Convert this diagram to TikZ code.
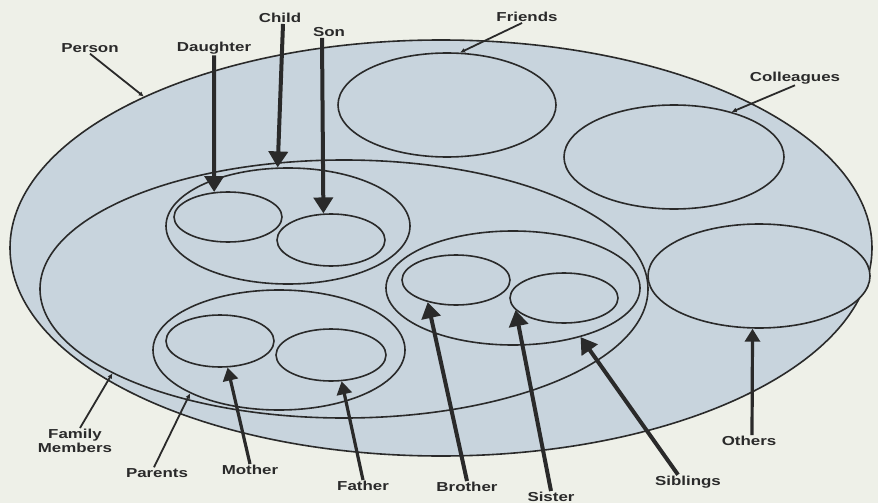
\documentclass[tikz,border=0pt]{standalone}
\usepackage{fontspec}
\newfontfamily\labfont[FakeStretch=1.3]{Liberation Sans}
\usetikzlibrary{shapes.geometric,arrows.meta}
\definecolor{bg}{HTML}{EEF0E8}
\definecolor{setfill}{HTML}{C8D4DD}
\definecolor{ink}{HTML}{2A2A2A}
\begin{document}
\begin{tikzpicture}[x=1pt,y=-1pt,
  set/.style={ellipse, draw=ink, line width=1.6pt, fill=setfill, inner sep=0pt},
  lab/.style={font=\labfont\bfseries\fontsize{13}{14}\selectfont, text=ink, inner sep=1pt, align=center},
  bigarrow/.style={draw=ink, line width=4pt, -{Triangle[length=16pt,width=19pt]}},
  midarrow/.style={draw=ink, line width=3.2pt, -{Triangle[length=13pt,width=15pt]}},
  leader/.style={draw=ink, line width=1.8pt, -{Latex[length=5pt,width=5pt]}}]
\useasboundingbox (0,0) rectangle (878,503);
\fill[bg] (0,0) rectangle (878,503);

% sets
\node[set, minimum width=862pt, minimum height=416pt] (person) at (441,248) {};
\node[set, minimum width=218pt, minimum height=104pt] (friends) at (447,105) {};
\node[set, minimum width=220pt, minimum height=104pt] (colleagues) at (674,157) {};
\node[set, minimum width=222pt, minimum height=104pt] (others) at (759,276) {};
\node[set, minimum width=608pt, minimum height=258pt] (family) at (344,289) {};
\node[set, minimum width=244pt, minimum height=116pt] (child) at (288,226) {};
\node[set, minimum width=108pt, minimum height=50pt] (daughter) at (228,217) {};
\node[set, minimum width=108pt, minimum height=52pt] (son) at (331,240) {};
\node[set, minimum width=252pt, minimum height=120pt] (parents) at (279,350) {};
\node[set, minimum width=108pt, minimum height=52pt] (mother) at (220,341) {};
\node[set, minimum width=110pt, minimum height=52pt] (father) at (331,355) {};
\node[set, minimum width=254pt, minimum height=114pt] (siblings) at (513,288) {};
\node[set, minimum width=108pt, minimum height=50pt] (brother) at (456,280) {};
\node[set, minimum width=108pt, minimum height=50pt] (sister) at (564,298) {};

% labels
\node[lab] (lperson) at (90,48) {Person};
\node[lab] (ldaughter) at (214,48) {Daughter};
\node[lab] (lchild) at (280,18) {Child};
\node[lab] (lson) at (329,32) {Son};
\node[lab] (lfriends) at (527,17) {Friends};
\node[lab] (lcolleagues) at (795,78) {Colleagues};
\node[lab] (lfamily) at (75,441) {Family\\Members};
\node[lab] (lparents) at (157,473) {Parents};
\node[lab] (lmother) at (250,470) {Mother};
\node[lab] (lfather) at (363,486) {Father};
\node[lab] (lbrother) at (467,487) {Brother};
\node[lab] (lsister) at (551,497) {Sister};
\node[lab] (lsiblings) at (688,482) {Siblings};
\node[lab] (lothers) at (749,441) {Others};

% connectors
\draw[leader] (lperson.south) -- (person.153);
\draw[leader] ([xshift=-5pt]lfriends.south) -- (friends.76);
\draw[leader] (lcolleagues.south) -- (colleagues.38);
\draw[leader] ([xshift=5pt]lfamily.north) -- (family.200);
\draw[leader] ([xshift=-3pt]lparents.north) -- (parents.206);
\draw[bigarrow] (ldaughter.south) -- (daughter.119);
\draw[bigarrow] ([xshift=3pt]lchild.south) -- (child.100);
\draw[bigarrow] ([xshift=-7pt]lson.south) -- (son.106);
\draw[midarrow] (lmother.north) -- (mother.286);
\draw[midarrow] (lfather.north) -- (father.292);
\draw[bigarrow] (lbrother.north) -- (brother.218);
\draw[bigarrow] (lsister.north) -- (sister.194);
\draw[bigarrow] ([xshift=-10pt]lsiblings.north) -- (siblings.324);
\draw[midarrow] ([xshift=3pt]lothers.north) -- (others.263);
\end{tikzpicture}
\end{document}
